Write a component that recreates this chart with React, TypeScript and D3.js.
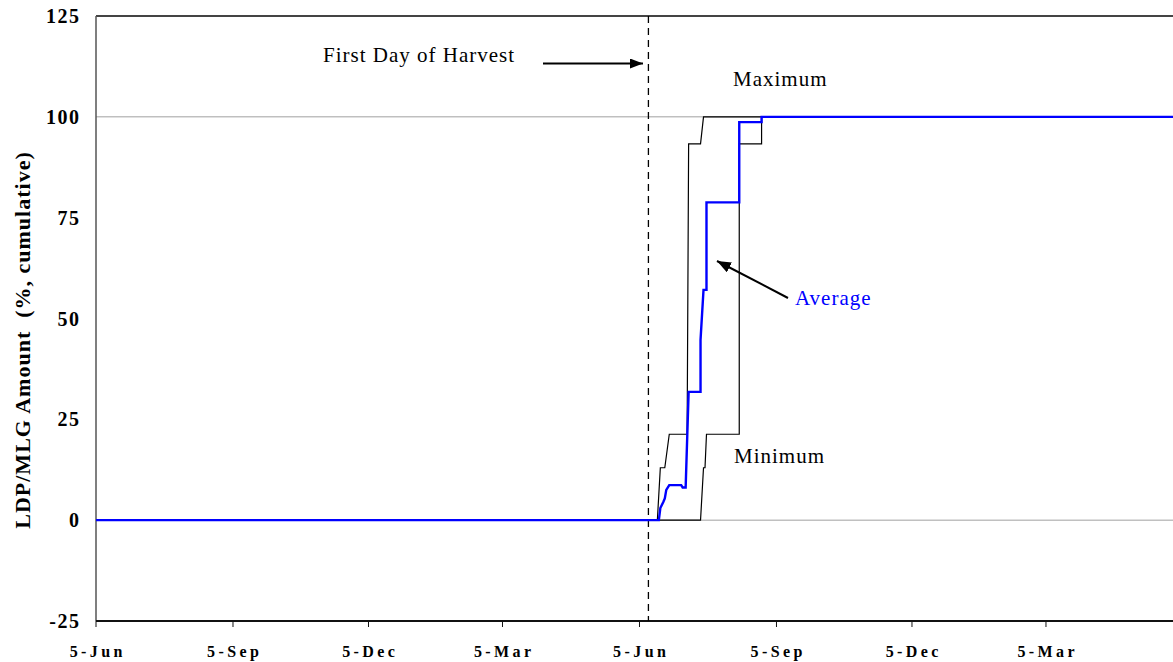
import React from "react";
import * as d3 from "d3";

// ---- data ----
const xTickDates = ["2005-06-05", "2005-09-05", "2005-12-05", "2006-03-05", "2006-06-05", "2006-09-05", "2006-12-05", "2007-03-05"];
const xTickLabels = ["5-Jun", "5-Sep", "5-Dec", "5-Mar", "5-Jun", "5-Sep", "5-Dec", "5-Mar"];
const yTicks = [-25, 0, 25, 50, 75, 100, 125];
const harvestDate = "2006-06-11";

const maxDates = ["2005-06-05", "2006-06-17", "2006-06-19", "2006-06-22", "2006-06-25", "2006-07-07", "2006-07-08", "2006-07-16", "2006-07-18", "2007-06-05"];
const maxValues = [0, 0, 13, 13, 21.3, 21.3, 93.3, 93.3, 100, 100];

const minDates = ["2005-06-05", "2006-07-16", "2006-07-18", "2006-07-19", "2006-07-20", "2006-08-11", "2006-08-11", "2006-08-26", "2006-08-26", "2007-06-05"];
const minValues = [0, 0, 13, 13, 21.3, 21.3, 93.3, 93.3, 100, 100];

const avgDates = ["2005-06-05", "2006-06-18", "2006-06-19", "2006-06-21", "2006-06-22", "2006-06-23", "2006-06-25", "2006-07-03", "2006-07-04", "2006-07-06", "2006-07-08", "2006-07-16", "2006-07-16", "2006-07-18", "2006-07-20", "2006-07-20", "2006-08-11", "2006-08-11", "2006-08-26", "2006-08-26", "2007-06-05"];
const avgValues = [0, 0, 3, 4.5, 5.4, 7.5, 8.7, 8.7, 8.1, 8.1, 31.8, 31.8, 44.7, 57.1, 57.1, 78.8, 78.8, 98.7, 98.7, 100, 100];

const W = 1173;
const H = 662;
const parse = d3.utcParse("%Y-%m-%d");

export default function App() {
  const x = d3
    .scaleUtc()
    .domain([parse("2005-06-05")!, parse("2007-06-05")!])
    .range([96, 96 + 730 * 1.489]);
  const y = d3.scaleLinear().domain([-25, 125]).range([621, 16]);
  const left = 96;
  const right = W;
  const top = y(125);
  const bottom = y(-25);

  const line = d3
    .line<[string, number]>()
    .x((d) => x(parse(d[0])!))
    .y((d) => y(d[1]));

  const zip = (ds: string[], vs: number[]) => ds.map((d, i) => [d, vs[i]] as [string, number]);

  const serif = "'Liberation Serif', 'Times New Roman', serif";
  const hx = x(parse(harvestDate)!);

  return (
    <svg width={W} height={H} style={{ position: "absolute", left: 0, top: 0, background: "#fff" }} fontFamily={serif}>
      <defs>
        <marker id="ah" viewBox="0 0 10 10" refX="10" refY="5" markerWidth="13" markerHeight="10" markerUnits="userSpaceOnUse" orient="auto" preserveAspectRatio="none">
          <path d="M0,0 L10,5 L0,10 z" fill="#000" />
        </marker>
        <marker id="ah2" viewBox="0 0 10 10" refX="10" refY="5" markerWidth="14" markerHeight="11" markerUnits="userSpaceOnUse" orient="auto" preserveAspectRatio="none">
          <path d="M0,0 L10,5 L0,10 z" fill="#000" />
        </marker>
      </defs>
      {/* gridlines */}
      {[0, 100].map((v) => (
        <line key={v} x1={left} x2={right} y1={y(v)} y2={y(v)} stroke="#a0a0a0" strokeWidth={1} />
      ))}
      {/* frame */}
      <line x1={left} x2={right} y1={top} y2={top} stroke="#444" strokeWidth={2} />
      <line x1={left} x2={left} y1={top} y2={bottom} stroke="#555" strokeWidth={1.5} />
      <line x1={left} x2={right} y1={bottom} y2={bottom} stroke="#111" strokeWidth={2} />
      {/* x ticks */}
      {xTickDates.map((d, i) => {
        const xx = x(parse(d)!);
        return (
          <g key={i}>
            <line x1={xx} x2={xx} y1={bottom} y2={bottom + 6} stroke="#111" strokeWidth={1} />
            <text x={xx + 1.7} y={657} textAnchor="middle" fontSize={16} fontWeight="bold" letterSpacing={3.4}>
              {xTickLabels[i]}
            </text>
          </g>
        );
      })}
      {/* y tick labels */}
      {yTicks.map((v) => (
        <text key={v} x={80.5} y={y(v) + 7} textAnchor="end" fontSize={20} fontWeight="bold" letterSpacing={1.5}>
          {v}
        </text>
      ))}
      <text
        transform={`translate(30, ${340}) rotate(-90)`}
        textAnchor="middle"
        fontSize={22}
        fontWeight="bold"
        letterSpacing={1}
        style={{ whiteSpace: "pre" }}
      >
        {"LDP/MLG Amount  (%, cumulative)"}
      </text>
      {/* harvest line */}
      <line x1={hx} x2={hx} y1={top} y2={bottom} stroke="#000" strokeWidth={1.3} strokeDasharray="7,5" />
      {/* series */}
      <path d={line(zip(minDates, minValues)) || ""} fill="none" stroke="#000" strokeWidth={1.2} />
      <path d={line(zip(maxDates, maxValues)) || ""} fill="none" stroke="#000" strokeWidth={1.2} />
      <path d={line(zip(avgDates, avgValues)) || ""} fill="none" stroke="#0000ff" strokeWidth={2.4} />
      {/* annotations */}
      <text x={323} y={62} fontSize={21} letterSpacing={1}>First Day of Harvest</text>
      <line x1={543} x2={643} y1={63.5} y2={63.5} stroke="#000" strokeWidth={2} markerEnd="url(#ah)" />
      <text x={733} y={86} fontSize={21} letterSpacing={1}>Maximum</text>
      <text x={795} y={305} fontSize={21} letterSpacing={1} fill="#0000ff">Average</text>
      <line x1={788} x2={717} y1={298} y2={261} stroke="#000" strokeWidth={2} markerEnd="url(#ah2)" />
      <text x={734} y={463} fontSize={21} letterSpacing={1}>Minimum</text>
    </svg>
  );
}
